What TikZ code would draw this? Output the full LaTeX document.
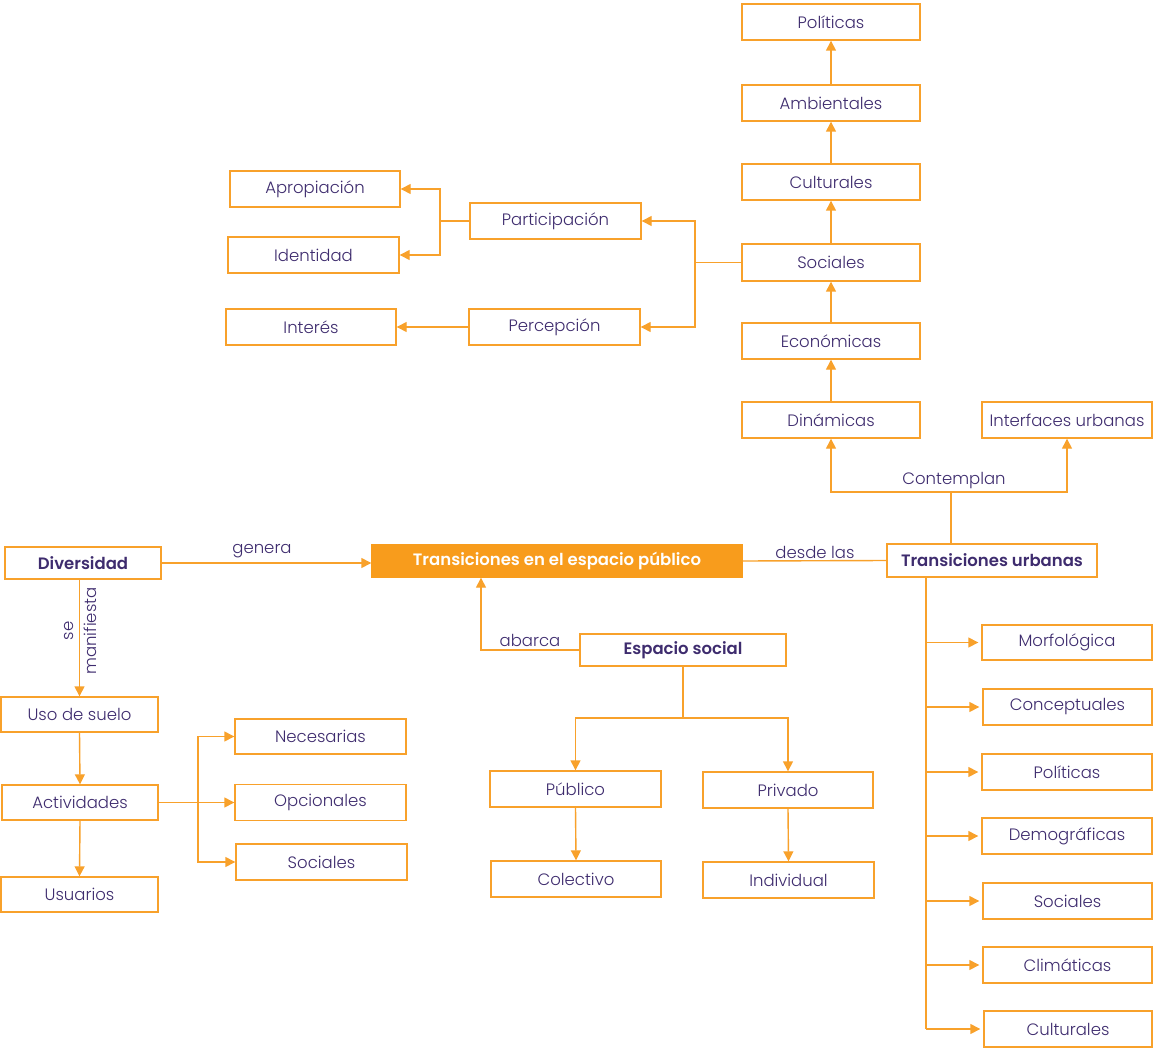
\documentclass[tikz,border=0pt]{standalone}
\usepackage{fontspec}
\setmainfont{Poppins}[UprightFont=* Light, BoldFont=* SemiBold]
\usetikzlibrary{arrows.meta,calc}
\definecolor{org}{HTML}{F8A12B}
\definecolor{orgfill}{HTML}{F89C1C}
\definecolor{txt}{HTML}{3E2C6E}
\begin{document}
\begin{tikzpicture}[x=1pt,y=-1pt,
  box/.style={draw=org, line width=1.4pt, fill=white, text=txt, inner sep=0pt, font=\fontsize{16.5}{20}\selectfont},
  boldbox/.style={box, font=\fontsize{16.5}{20}\selectfont\bfseries},
  conn/.style={draw=org, line width=1.4pt},
  arr/.style={conn, -{Triangle[length=10pt,width=10pt]}},
  lbl/.style={text=txt, font=\fontsize{16.5}{20}\selectfont, inner sep=0pt}]
\useasboundingbox (0,0) rectangle (1153,1048);
% right column
\node[box, minimum width=178, minimum height=36] (pol) at (831,22) {Políticas};
\node[box, minimum width=178, minimum height=36] (amb) at (831,103) {Ambientales};
\node[box, minimum width=178, minimum height=36] (cul) at (831,182) {Culturales};
\node[box, minimum width=178, minimum height=37] (soc) at (831,262.5) {Sociales};
\node[box, minimum width=178, minimum height=36] (eco) at (831,341) {Económicas};
\node[box, minimum width=178, minimum height=36] (din) at (831,420) {Dinámicas};
\node[box, minimum width=170, minimum height=36] (inter) at (1067,420) {Interfaces urbanas};
% participation
\node[box, minimum width=171, minimum height=36] (part) at (555.5,221) {Participación};
\node[box, minimum width=171, minimum height=36] (perc) at (554.5,327) {Percepción};
\node[box, minimum width=170, minimum height=36] (apro) at (315,189) {Apropiación};
\node[box, minimum width=171, minimum height=36] (iden) at (313.5,255) {Identidad};
\node[box, minimum width=170, minimum height=36] (inte) at (311,327) {Interés};
% central row
\node[boldbox, minimum width=210, minimum height=33] (tu) at (992,560.5) {Transiciones urbanas};
\node[boldbox, draw=orgfill, fill=orgfill, text=white, minimum width=370, minimum height=32] (central) at (557,561) {Transiciones en el espacio público};
\node[boldbox, minimum width=156, minimum height=32] (div) at (83,563) {Diversidad};
% left
\node[box, minimum width=157, minimum height=35] (uso) at (79.5,714.5) {Uso de suelo};
\node[box, minimum width=156, minimum height=35] (act) at (80,802.5) {Actividades};
\node[box, minimum width=157, minimum height=35] (usu) at (79.5,894.5) {Usuarios};
\node[box, minimum width=171, minimum height=35] (nec) at (320.5,736.5) {Necesarias};
\node[box, minimum width=171, minimum height=36] (opc) at (320.5,802.5) {Opcionales};
\node[box, minimum width=171, minimum height=36] (soc2) at (321.5,862) {Sociales};
% espacio social
\node[boldbox, minimum width=206, minimum height=32] (esp) at (683,650) {Espacio social};
\node[box, minimum width=171, minimum height=36] (pub) at (575.5,789) {Público};
\node[box, minimum width=170, minimum height=36] (priv) at (788,790) {Privado};
\node[box, minimum width=170, minimum height=36] (col) at (576,879) {Colectivo};
\node[box, minimum width=171, minimum height=36] (ind) at (788.5,880) {Individual};
% right list
\node[box, minimum width=170, minimum height=35] (mor) at (1067,642.5) {Morfológica};
\node[box, minimum width=169, minimum height=36] (con) at (1067.5,707) {Conceptuales};
\node[box, minimum width=170, minimum height=36] (pol2) at (1067,772) {Políticas};
\node[box, minimum width=170, minimum height=36] (dem) at (1067,836) {Demográficas};
\node[box, minimum width=169, minimum height=36] (soc3) at (1067.5,901) {Sociales};
\node[box, minimum width=169, minimum height=36] (cli) at (1067.5,965) {Climáticas};
\node[box, minimum width=168, minimum height=36] (cult) at (1068,1029) {Culturales};
% vertical chain
\draw[arr] (din.north) -- (eco.south);
\draw[arr] (eco.north) -- (soc.south);
\draw[arr] (soc.north) -- (cul.south);
\draw[arr] (cul.north) -- (amb.south);
\draw[arr] (amb.north) -- (pol.south);
% sociales to participation/percepcion
\coordinate (j1) at (695,262.5);
\draw[conn] (soc.west) -- (j1);
\draw[arr] (j1) |- (part.east);
\draw[arr] (j1) |- (perc.east);
\coordinate (j2) at (440,221);
\draw[conn] (part.west) -- (j2);
\draw[arr] (j2) |- (apro.east);
\draw[arr] (j2) |- (iden.east);
\draw[arr] (perc.west) -- (inte.east);
% contemplan
\coordinate (j3) at (951,492);
\draw[conn] (j3 |- tu.north) -- (j3);
\draw[arr] (j3) -| (din.south);
\draw[arr] (j3) -| (inter.south);
\node[lbl] at (954,481) {Contemplan};
% desde las
\draw[conn] (tu.west) -- (central.east);
\node[lbl] at (815,552) {desde las};
% genera
\draw[arr] (div.east) -- (div.east -| central.west);
\node[lbl] at (262,551) {genera};
% se manifiesta
\draw[arr] (uso.north |- div.south) -- (uso.north);
\node[lbl, rotate=90, align=center, font=\fontsize{16.5}{23}\selectfont] at (80,631) {se\\manifiesta};
\draw[arr] (uso.south) -- (act.north);
\draw[arr] (act.south) -- (usu.north);
\coordinate (j6) at (198,802.5);
\draw[arr] (act.east) -- (opc.west);
\draw[arr] (j6) |- (nec.west);
\draw[arr] (j6) |- (soc2.west);
% abarca
\coordinate (j4) at (481,650);
\draw[arr] (esp.west) -- (j4) -- (j4 |- central.south);
\node[lbl] at (530,640) {abarca};
% espacio social split
\coordinate (j5) at (683,718);
\draw[conn] (esp.south) -- (j5);
\draw[arr] (j5) -| (pub.north);
\draw[arr] (j5) -| (priv.north);
\draw[arr] (pub.south) -- (col.north);
\draw[arr] (priv.south) -- (ind.north);
% right list
\coordinate (j7) at (926,1026);
\draw[conn] (j7 |- tu.south) -- (j7 |- cult.west);
\foreach \n in {mor,con,pol2,dem,soc3,cli,cult}{
  \draw[arr, shorten >=3pt] (j7 |- \n.west) -- (\n.west);
}
\end{tikzpicture}
\end{document}
